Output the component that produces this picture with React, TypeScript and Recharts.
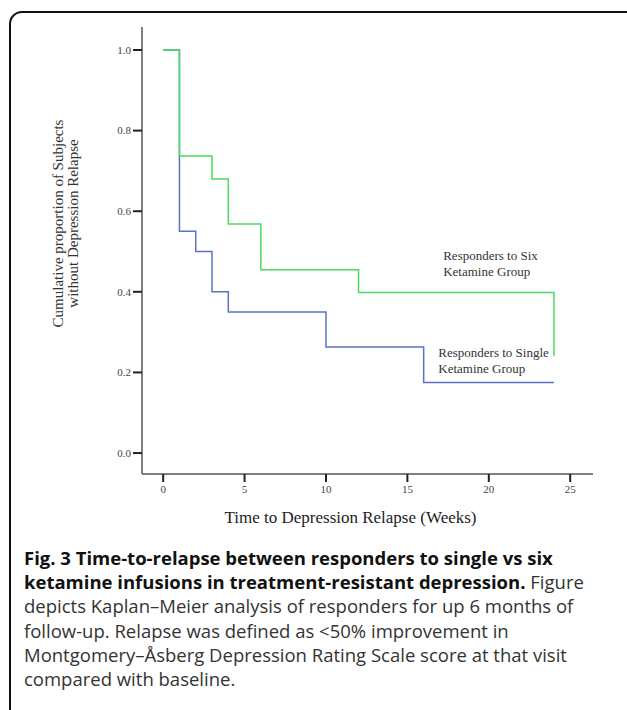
import React from "react";
import {
  LineChart,
  Line,
  XAxis,
  YAxis,
  ReferenceDot,
  Label,
} from "recharts";

// Kaplan-Meier steps (weeks, proportion without relapse)
const sixWeeks = [0, 1, 3, 4, 6, 12, 24, 24];
const sixSurvival = [1.0, 0.737, 0.68, 0.568, 0.455, 0.398, 0.398, 0.24];
const singleWeeks = [0, 1, 2, 3, 4, 10, 16, 24];
const singleSurvival = [1.0, 0.55, 0.5, 0.4, 0.35, 0.263, 0.175, 0.175];

const xTicks = [0, 5, 10, 15, 20, 25];
const yTicks = [0, 0.2, 0.4, 0.6, 0.8, 1.0];

const sixLabel = ["Responders to Six", "Ketamine Group"];
const singleLabel = ["Responders to Single", "Ketamine Group"];

const sixData = sixWeeks.map((t, i) => ({ t, p: sixSurvival[i] }));
const singleData = singleWeeks.map((t, i) => ({ t, p: singleSurvival[i] }));

const SERIF = "'Liberation Serif', 'Times New Roman', serif";
const GREEN = "#4cd964";
const BLUE = "#5a73c4";

const annotation = (lines: string[]) => (props: any) => {
  const { viewBox } = props;
  const x = viewBox.x + viewBox.width / 2;
  const y = viewBox.y + viewBox.height / 2;
  return (
    <text x={x} y={y} fontFamily={SERIF} fontSize={13} fill="#333">
      {lines.map((l, i) => (
        <tspan key={i} x={x} dy={i === 0 ? 4 : 16}>
          {l}
        </tspan>
      ))}
    </text>
  );
};

const yTitle = (props: any) => {
  const { viewBox } = props;
  const cy = viewBox.y + viewBox.height / 2 - 27;
  const cx = 65;
  return (
    <text
      transform={`translate(${cx},${cy}) rotate(-90)`}
      textAnchor="middle"
      fontFamily={SERIF}
      fontSize={15}
      fill="#333"
    >
      <tspan x={0} dy={-2}>Cumulative proportion of Subjects</tspan>
      <tspan x={0} dy={15}>without Depression Relapse</tspan>
    </text>
  );
};

export default function App() {
  return (
    <div style={{ position: "absolute", left: 0, top: 0, width: 627, height: 710, overflow: "hidden", background: "#fff" }}>
      <div
        style={{
          position: "absolute",
          left: 9,
          top: 11,
          width: 640,
          height: 740,
          border: "2px solid #111",
          borderRadius: 13,
        }}
      />
      <div style={{ position: "absolute", left: 0, top: 0 }}>
        <LineChart width={627} height={540} margin={{ top: 27, right: 34, bottom: 0, left: 0 }}>
          <XAxis
            type="number"
            dataKey="t"
            domain={[-1.3, 26.4]}
            ticks={xTicks}
            allowDataOverflow
            height={66}
            stroke="#555"
            strokeWidth={1.5}
            tickSize={8}
            tickMargin={3}
            tickLine={{ stroke: "#222", strokeWidth: 2 }}
            tick={{ fontFamily: SERIF, fontSize: 11, fill: "#444" }}
          >
            <Label
              value="Time to Depression Relapse (Weeks)"
              position="insideBottom"
              offset={17}
              dx={-17}
              style={{ fontFamily: SERIF, fontSize: 17, fill: "#222" }}
            />
          </XAxis>
          <YAxis
            type="number"
            domain={[-0.052, 1.057]}
            ticks={yTicks}
            allowDataOverflow
            width={142}
            stroke="#555"
            strokeWidth={1.5}
            tickSize={9}
            tickMargin={2}
            tickLine={{ stroke: "#222", strokeWidth: 2 }}
            tick={{ fontFamily: SERIF, fontSize: 11, fill: "#444" }}
            tickFormatter={(v: number) => v.toFixed(1)}
            label={{ content: yTitle }}
          />
          <Line
            data={singleData}
            dataKey="p"
            type="stepAfter"
            stroke={BLUE}
            strokeWidth={1.5}
            dot={false}
            isAnimationActive={false}
          />
          <Line
            data={sixData}
            dataKey="p"
            type="stepAfter"
            stroke={GREEN}
            strokeWidth={1.5}
            dot={false}
            isAnimationActive={false}
          />
          <ReferenceDot x={17.2} y={0.49} r={0} fill="none" stroke="none" ifOverflow="visible" label={{ content: annotation(sixLabel) }} />
          <ReferenceDot x={16.9} y={0.248} r={0} fill="none" stroke="none" ifOverflow="visible" label={{ content: annotation(singleLabel) }} />
        </LineChart>
      </div>
      <div
        style={{
          position: "absolute",
          left: 24,
          top: 546,
          fontFamily: "'Open Sans', sans-serif",
          fontSize: 18.5,
          lineHeight: "24.2px",
          color: "#333",
          whiteSpace: "nowrap",
        }}
      >
        <b style={{ color: "#111" }}>Fig. 3 Time-to-relapse between responders to single vs six</b>
        <br />
        <b style={{ color: "#111" }}>ketamine infusions in treatment-resistant depression.</b> Figure
        <br />
        depicts Kaplan–Meier analysis of responders for up 6 months of
        <br />
        follow-up. Relapse was defined as &lt;50% improvement in
        <br />
        Montgomery–Åsberg Depression Rating Scale score at that visit
        <br />
        compared with baseline.
      </div>
    </div>
  );
}
